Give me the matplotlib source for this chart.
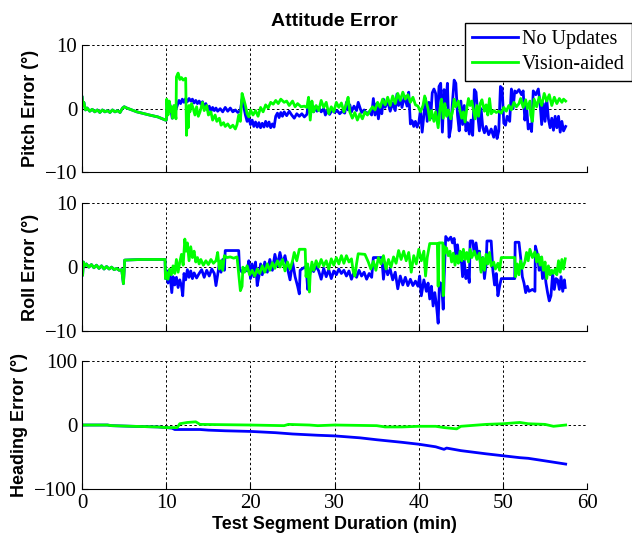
import numpy as np
import matplotlib
matplotlib.use('Agg')
import matplotlib.pyplot as plt

# 0-10 min: both solutions are identical (green drawn on top)
pitch_pre = [(0, 1.8), (0.1, 0.5), (0.2, 1.0), (0.4, -0.2), (0.6, 0.1), (0.9, -0.4), (1.2, -0.1), (1.5, -0.5),
             (1.8, -0.2), (2.1, -0.6), (2.4, -0.2), (2.7, -0.5), (3.0, -0.3), (3.3, -0.6), (3.6, -0.2), (3.9, -0.5),
             (4.2, -0.3), (4.5, -0.6), (4.8, 0.1), (5.0, 0.3), (5.3, 0.1), (6.5, -0.5), (8.0, -1.0), (9.0, -1.3),
             (9.9, -1.8)]

roll_pre = [(0, 0.5), (0.05, -1.3), (0.15, 0.8), (0.3, 0.2), (0.5, 0.5), (0.8, 0.0), (1.1, 0.4), (1.4, -0.1),
            (1.7, 0.3), (2.0, -0.2), (2.3, 0.2), (2.6, -0.3), (2.9, 0.1), (3.2, -0.3), (3.5, 0.0), (3.8, -0.4),
            (4.1, -0.2), (4.4, -0.5), (4.7, -0.4), (4.9, -2.6), (5.0, -0.4), (5.05, 1.1), (7.0, 1.2), (9.85, 1.2)]

pitch_blue = [(10.0, -1.8), (10.1, 1.0), (10.25, -0.5), (10.4, 0.8), (10.55, -0.2), (10.7, -1.5), (10.9, -1.2),
              (11.1, -0.3), (11.3, 0.5), (11.5, 1.3), (11.7, 0.8), (11.9, 1.5), (12.1, 1.0), (12.3, 1.6), (12.5, 1.1),
              (12.7, 1.6), (12.9, 1.2), (13.1, 1.5), (13.3, 0.9), (13.5, 1.3), (13.7, 0.8), (13.9, 1.2), (14.1, 0.7),
              (14.3, 1.1), (14.5, 0.2), (14.7, 0.8), (14.9, -0.2), (15.1, 0.4), (15.3, -0.4), (15.5, 0.2), (15.7, -0.3),
              (15.9, 0.1), (16.1, -0.4), (16.4, 0.0), (16.7, -0.5), (17.0, 0.2), (17.3, -0.4), (17.6, 0.1), (17.9, -0.5),
              (18.2, -0.2), (18.5, -0.6), (18.8, -0.3), (19.0, 1.5), (19.2, 0.3), (19.4, -1.0), (19.6, -2.0), (19.8, -1.4),
              (20.0, -2.5), (20.2, -1.8), (20.4, -2.8), (20.6, -2.1), (20.8, -2.9), (21.0, -2.2), (21.2, -3.0),
              (21.4, -2.3), (21.6, -2.9), (21.8, -2.0), (22.0, -2.8), (22.2, -2.1), (22.4, -3.0), (22.6, -2.4),
              (22.8, -2.9), (23.0, -1.2), (23.2, -0.7), (23.4, -1.4), (23.6, -0.6), (23.8, -1.2), (24.0, -0.5),
              (24.3, -1.1), (24.6, -0.4), (24.9, -1.0), (25.2, -1.5), (25.5, -0.8), (25.8, -1.2), (26.1, -0.8),
              (26.4, -1.3), (26.7, -0.9), (26.9, 1.0), (27.1, -0.8), (27.3, 0.6), (27.5, -0.5), (27.7, 0.3), (27.9, -0.4),
              (28.1, 0.2), (28.4, -0.5), (28.7, 0.0), (28.9, -1.0), (29.1, -0.3), (29.4, -0.9), (29.7, -0.2), (30.0, -0.6),
              (30.3, -0.3), (30.6, -0.8), (30.9, -0.4), (31.2, -0.7), (31.4, 1.0), (31.6, -0.2), (31.8, 0.6), (32.0, -0.5),
              (32.3, 0.4), (32.6, -0.3), (32.8, 1.0), (33.0, 0.2), (33.2, -0.6), (33.5, -0.2), (33.8, -0.8), (34.1, -0.5),
              (34.4, -1.0), (34.6, 1.6), (34.8, -1.0), (35.0, 0.8), (35.2, -1.6), (35.4, 0.5), (35.6, -0.8), (35.8, 1.5),
              (36.0, 0.2), (36.3, 1.2), (36.6, -0.4), (36.9, 0.9), (37.2, -0.3), (37.4, 2.3), (37.6, 0.5), (37.8, 1.8),
              (38.0, 0.2), (38.3, 2.0), (38.6, 0.4), (38.8, 2.6), (39.0, -2.4), (39.2, -1.9), (39.4, -2.8), (39.6, -2.0),
              (39.8, -2.9), (40.0, -2.2), (40.2, -0.2), (40.4, -3.7), (40.6, -1.0), (40.8, 1.6), (41.0, -2.0), (41.2, 1.0),
              (41.4, -1.5), (41.6, 2.5), (41.8, 3.1), (42.0, 2.4), (42.2, -2.0), (42.4, 3.5), (42.6, 4.0), (42.8, -3.7),
              (43.0, 3.0), (43.2, 0.5), (43.4, 4.0), (43.6, -4.5), (43.8, -3.0), (44.0, 1.0), (44.2, 4.5), (44.4, 4.0),
              (44.6, -1.0), (44.8, -3.5), (45.0, 1.2), (45.2, -2.5), (45.4, 0.5), (45.6, -3.5), (45.8, -2.2), (46.0, -4.0),
              (46.2, -1.8), (46.4, -4.2), (46.6, 3.0), (46.8, 2.6), (47.0, -1.0), (47.2, -3.5), (47.4, 0.0), (47.6, -3.0),
              (47.8, -3.8), (48.0, -2.8), (48.3, -4.1), (48.6, -3.2), (48.9, -4.5), (49.1, -2.8), (49.3, -4.7),
              (49.5, -3.5), (49.7, 3.5), (49.9, 3.2), (50.1, -2.3), (50.3, -2.6), (50.5, -1.2), (50.8, -2.0), (51.0, 3.1),
              (51.2, 0.0), (51.4, 2.8), (51.6, 2.5), (51.9, 3.0), (52.2, 2.2), (52.4, 2.8), (52.6, -1.8), (52.8, 0.5),
              (53.0, -3.2), (53.2, -2.5), (53.4, -3.6), (53.6, 2.8), (53.9, 2.2), (54.2, 3.1), (54.4, 1.0), (54.6, -2.5),
              (54.8, 0.8), (55.0, -2.0), (55.2, 1.5), (55.4, -1.6), (55.6, -3.0), (55.8, -1.5), (56.0, -3.4), (56.2, -1.2),
              (56.4, -3.0), (56.6, -1.2), (56.8, -3.7), (57.0, -2.0), (57.2, -3.5), (57.45, -2.8)]

pitch_green = [(10.0, -1.8), (10.05, 1.5), (10.2, -1.0), (10.35, 1.2), (10.5, -0.5), (10.6, 0.3), (10.75, -1.5),
               (10.9, 0.5), (11.0, -0.3), (11.15, -1.6), (11.2, 5.0), (11.4, 5.6), (11.6, 4.6), (11.8, 4.9), (12.0, 4.5),
               (12.3, 4.8), (12.4, -4.2), (12.5, -1.0), (12.6, -3.0), (12.7, 0.5), (12.8, -0.5), (13.0, 0.8), (13.2, 0.0),
               (13.4, -1.0), (13.6, 0.3), (13.8, -1.2), (14.0, -0.5), (14.3, 1.0), (14.5, -0.3), (14.8, 0.5), (15.0, -1.0),
               (15.3, -0.5), (15.5, -1.8), (15.8, -1.0), (16.0, -2.0), (16.3, -1.5), (16.5, -2.6), (16.8, -2.2),
               (17.0, -2.8), (17.3, -2.4), (17.6, -3.0), (17.9, -2.6), (18.2, -3.2), (18.4, -2.5), (18.6, -1.0),
               (18.8, -2.0), (19.0, 2.4), (19.2, 1.5), (19.4, 0.5), (19.6, -0.8), (19.8, -1.3), (20.0, -0.2), (20.3, -1.0),
               (20.6, -0.3), (20.9, -1.2), (21.2, 0.2), (21.5, -0.5), (21.8, 0.6), (22.1, 0.1), (22.4, 1.0), (22.7, 0.7),
               (23.0, 1.3), (23.3, 0.8), (23.6, 1.5), (24.0, 1.0), (24.3, 1.2), (24.6, 0.5), (25.0, 1.2), (25.3, 0.3),
               (25.6, 0.8), (26.0, 0.3), (26.4, 0.4), (26.7, 0.2), (26.9, 1.8), (27.1, -1.8), (27.3, 1.2), (27.5, -0.5),
               (27.8, 0.5), (28.1, -0.3), (28.4, 1.3), (28.7, 0.2), (29.0, 1.0), (29.3, -0.8), (29.6, 0.3), (29.9, -0.5),
               (30.2, 1.0), (30.5, 0.2), (30.8, 0.9), (31.1, -0.5), (31.4, 0.8), (31.6, 1.8), (31.8, -0.5), (32.1, -1.5),
               (32.4, -0.6), (32.7, -1.8), (33.0, -0.8), (33.3, -1.6), (33.6, -0.5), (33.9, -1.0), (34.2, -0.3),
               (34.5, 0.3), (34.8, -0.2), (35.1, 1.0), (35.4, 0.2), (35.7, 1.5), (36.0, 0.6), (36.3, 1.8), (36.6, 0.5),
               (36.9, 2.0), (37.2, 0.8), (37.5, 2.4), (37.8, 1.3), (38.1, 2.6), (38.4, 1.5), (38.7, 2.2), (39.0, 1.0),
               (39.3, 1.8), (39.6, 0.6), (39.9, 0.4), (40.2, -0.5), (40.5, 0.5), (40.7, 2.0), (40.9, 1.0), (41.1, 0.0),
               (41.3, -1.8), (41.5, -0.3), (41.8, -2.0), (42.0, -0.5), (42.3, -3.0), (42.5, -0.2), (42.7, 1.5),
               (42.9, -1.5), (43.1, 0.8), (43.3, -1.2), (43.5, -0.2), (43.8, -1.6), (44.0, -0.5), (44.2, 1.5), (44.4, 0.3),
               (44.7, 1.2), (44.9, -0.3), (45.1, -1.5), (45.3, -0.5), (45.5, -2.1), (45.7, 0.0), (45.9, 1.6), (46.1, 0.5),
               (46.3, 1.2), (46.5, -0.2), (46.7, -1.6), (46.9, 0.5), (47.1, -1.2), (47.3, 0.8), (47.5, 1.4), (47.8, -0.4),
               (48.0, 0.6), (48.2, -1.0), (48.4, 1.6), (48.6, -0.8), (48.9, -0.3), (49.2, -0.6), (49.5, -0.4),
               (49.8, -0.7), (50.1, 0.2), (50.4, -0.4), (50.7, 0.5), (51.0, -0.2), (51.3, 1.0), (51.6, 0.3), (51.9, 0.8),
               (52.1, 1.6), (52.4, 0.2), (52.7, 1.4), (52.9, 0.0), (53.2, 1.2), (53.3, -1.0), (53.5, -2.0), (53.7, 1.5),
               (54.0, 0.3), (54.3, 1.8), (54.6, 0.5), (54.9, 2.4), (55.2, 1.2), (55.5, 2.2), (55.8, 0.5), (56.1, 1.8),
               (56.4, 0.8), (56.7, 1.6), (57.0, 1.0), (57.2, 1.5), (57.45, 1.2)]

roll_blue = [(9.9, -1.8), (10.0, -0.5), (10.2, -2.5), (10.4, -0.8), (10.65, -4.0), (10.8, -1.5), (11.0, -2.8),
             (11.2, -1.6), (11.4, -3.2), (11.6, -2.0), (11.8, -3.0), (11.95, -4.5), (12.1, -1.0), (12.3, -2.0),
             (12.5, -0.4), (12.7, -1.6), (12.9, -0.6), (13.1, -1.8), (13.3, -0.9), (13.6, -1.7), (13.9, -1.0),
             (14.2, -0.4), (14.5, -1.6), (14.8, -0.5), (15.1, -1.4), (15.4, -0.3), (15.7, -1.0), (15.9, -2.9),
             (16.1, -1.2), (16.3, 0.5), (16.5, -0.8), (16.7, 1.2), (16.9, -0.5), (17.0, 2.6), (18.6, 2.6), (18.7, -0.3),
             (19.0, -0.8), (19.3, -0.2), (19.6, -0.6), (19.8, 1.0), (20.0, -1.8), (20.2, 0.5), (20.4, -1.5), (20.6, 0.8),
             (20.8, -2.9), (21.0, -1.5), (21.2, 0.5), (21.4, -1.2), (21.7, 0.8), (22.0, -0.8), (22.3, 1.2), (22.6, -0.5),
             (22.9, 2.0), (23.2, 0.2), (23.5, 2.3), (23.8, 0.5), (24.1, 1.8), (24.4, -0.2), (24.7, -2.0), (25.0, 0.8),
             (25.3, -1.5), (25.6, -3.0), (25.8, -4.2), (25.9, -0.5), (26.2, -0.2), (26.5, 0.0), (26.6, 0.2),
             (26.8, -3.5), (27.0, -1.5), (27.2, 0.0), (27.5, -0.7), (27.8, 0.2), (28.1, -0.6), (28.4, -1.9), (28.7, -0.2),
             (29.0, -1.5), (29.3, -0.4), (29.6, -1.8), (29.9, -0.6), (30.2, -1.2), (30.5, -0.3), (30.8, -1.0),
             (31.1, -0.5), (31.4, -1.4), (31.7, -0.6), (32.0, -1.9), (32.3, -0.8), (32.6, -1.6), (32.9, -0.5),
             (33.2, -1.4), (33.5, -0.8), (33.8, -1.9), (34.1, -1.0), (34.4, -1.6), (34.6, 1.5), (35.6, 1.5),
             (35.8, -1.9), (36.0, 0.5), (36.3, -1.2), (36.6, -0.3), (36.9, -2.0), (37.2, -0.8), (37.5, -3.4),
             (37.8, -1.4), (38.1, -2.8), (38.4, -1.6), (38.7, -2.9), (39.0, -1.9), (39.3, -2.9), (39.6, -2.2),
             (39.9, -3.0), (40.1, -1.4), (40.3, -4.5), (40.6, -2.0), (40.9, -3.8), (41.1, -2.5), (41.3, -5.0),
             (41.5, -3.0), (41.7, -6.1), (41.9, -4.0), (42.1, -6.0), (42.3, -8.8), (42.45, -2.4), (42.7, -2.6),
             (42.9, -6.6), (43.0, -2.0), (43.1, 1.5), (43.2, 4.8), (43.5, 4.2), (43.8, 4.7), (44.0, 3.8), (44.2, 4.5),
             (44.4, 2.0), (44.6, 3.5), (44.8, 0.8), (45.0, 2.3), (45.2, -1.5), (45.4, 1.0), (45.6, -1.8), (45.8, -0.5),
             (46.0, -2.4), (46.1, 4.1), (46.4, 4.1), (46.6, 2.0), (46.8, 3.8), (47.0, 1.8), (47.2, 2.5), (47.4, -0.5),
             (47.6, 1.5), (47.8, -1.8), (48.0, 0.5), (48.1, 4.1), (48.6, 4.1), (48.8, -0.5), (49.0, -2.8), (49.2, -1.0),
             (49.4, -4.5), (49.6, -3.0), (49.8, -1.8), (51.4, -1.8), (51.45, 3.9), (51.9, 3.9), (52.1, 1.5),
             (52.3, -1.5), (52.5, -2.5), (52.7, -4.0), (52.9, -3.0), (53.1, -3.8), (53.5, -3.5), (53.8, -3.8),
             (53.85, 3.3), (54.1, 2.0), (54.3, -0.5), (54.5, 1.5), (54.7, -1.8), (54.9, 0.5), (55.1, -2.4), (55.3, -4.0),
             (55.5, -5.3), (55.7, -4.5), (55.9, -1.0), (56.1, -3.5), (56.3, -1.8), (56.5, -2.0), (56.7, -3.5),
             (56.9, -1.5), (57.1, -3.8), (57.3, -2.0), (57.4, -3.2)]

roll_green = [(9.9, -1.8), (10.0, -0.8), (10.2, -1.9), (10.4, -0.3), (10.6, -1.2), (10.8, 0.2), (11.0, -1.0),
              (11.2, 1.2), (11.4, -0.8), (11.6, 0.8), (11.8, 2.0), (12.0, 0.3), (12.2, 4.4), (12.35, 2.5), (12.5, 3.8),
              (12.7, 1.0), (12.9, 3.2), (13.1, 1.5), (13.3, 2.5), (13.5, 0.8), (13.7, 1.5), (13.9, 0.5), (14.1, 1.2),
              (14.4, 0.3), (14.7, 1.0), (15.0, 0.4), (15.3, 1.2), (15.6, 0.6), (15.9, 1.0), (16.1, 2.3), (16.3, -0.3),
              (16.5, 1.0), (16.7, -0.5), (16.9, 1.8), (17.2, 1.5), (17.6, 1.6), (18.0, 1.4), (18.4, 1.6), (18.6, -1.0),
              (18.8, -3.7), (19.0, -3.0), (19.1, 0.0), (19.3, -0.8), (19.6, 0.2), (19.9, -1.2), (20.2, -0.5),
              (20.5, -1.4), (20.8, -0.3), (21.1, -1.0), (21.4, 0.2), (21.7, -0.8), (22.0, 0.5), (22.3, -0.5), (22.6, 0.7),
              (22.9, -0.2), (23.2, 1.0), (23.5, 0.0), (23.8, 1.2), (24.1, -0.6), (24.4, 0.8), (24.7, -0.3), (25.0, 1.0),
              (25.2, 2.3), (25.5, 1.0), (25.8, 2.8), (26.5, 2.8), (26.6, -1.5), (26.8, 0.5), (27.0, -3.9), (27.1, -1.0),
              (27.3, 0.8), (27.5, -0.5), (27.8, 1.0), (28.1, 0.0), (28.4, 1.2), (28.7, 0.2), (29.0, 1.0), (29.3, -0.3),
              (29.6, 1.3), (29.9, 0.3), (30.2, 1.5), (30.5, 0.5), (30.8, 1.8), (31.1, 0.6), (31.4, 1.8), (31.7, 0.8),
              (32.0, 1.3), (32.2, -0.6), (32.4, -1.4), (32.6, 0.5), (32.8, 2.1), (33.6, 2.0), (34.0, 0.8), (34.3, -0.3),
              (34.6, 0.9), (34.9, -0.5), (35.2, 1.5), (35.5, 0.5), (35.8, 1.8), (36.1, -0.3), (36.4, 1.2), (36.7, 0.0),
              (37.0, 1.6), (37.3, 0.6), (37.6, 2.6), (37.9, 1.2), (38.2, 2.5), (38.5, 1.0), (38.8, 2.3), (39.1, -0.8),
              (39.4, 1.8), (39.7, 0.5), (40.0, 2.8), (40.3, 1.0), (40.6, 2.5), (40.8, -1.4), (41.0, 1.5), (41.2, 3.0),
              (41.3, 3.7), (42.2, 3.7), (42.3, -3.0), (42.4, 3.8), (42.85, 3.8), (42.9, -4.5), (43.0, 3.3), (43.1, 2.2),
              (43.3, 3.0), (43.5, 1.8), (43.7, 2.5), (43.9, 0.8), (44.1, 2.2), (44.3, 0.3), (44.5, 1.8), (44.7, 0.6),
              (44.9, 2.5), (45.1, 1.0), (45.3, 2.8), (45.5, 1.2), (45.7, 2.3), (45.9, 0.8), (46.1, 2.8), (46.3, 1.5),
              (46.6, 2.5), (46.9, 1.2), (47.2, 2.2), (47.4, -0.8), (47.6, 1.5), (47.8, -0.5), (48.0, 2.0), (48.2, 0.5),
              (48.4, 2.3), (48.6, 0.2), (48.9, 0.8), (49.1, -0.3), (49.4, 0.6), (49.6, -0.5), (49.8, 1.5), (51.4, 1.5),
              (51.5, -1.5), (51.7, 0.5), (51.9, -1.2), (52.1, 1.0), (52.3, -0.2), (52.6, 0.8), (52.8, 2.3), (53.0, 1.0),
              (53.2, 2.8), (53.5, 1.5), (53.8, 2.4), (54.0, 0.8), (54.2, 2.0), (54.4, 0.3), (54.6, 1.6), (54.8, -0.5),
              (55.0, 0.8), (55.2, -1.8), (55.4, 0.2), (55.6, -1.2), (55.8, -0.5), (56.0, -1.0), (56.2, -0.3),
              (56.4, -1.2), (56.6, 1.0), (56.8, -0.8), (57.0, 1.2), (57.2, -0.3), (57.4, 1.3)]

heading_blue = [(0, 0), (3, 0), (3.5, -1), (6, -2), (9, -3), (10, -4), (10.7, -5), (11, -7), (14, -7), (15, -8),
                (17, -9), (20, -10), (23, -12), (25, -14), (28, -16), (30, -17), (33, -20), (35, -23), (38, -27),
                (40, -30), (42, -34), (43, -38), (43.3, -36), (45, -40), (48, -45), (50, -48), (52, -51), (53, -52),
                (55, -56), (57.45, -61)]

heading_green = [(0, 0), (3, 0), (3.5, -1), (6, -2), (9, -3), (10, -4), (11.3, -4), (11.6, 2), (12.5, 4), (13.5, 5),
                 (14, 1), (20, 0), (24, -1), (24.5, 1), (27, 0), (28, -1), (30, 0), (35, -1), (36, -3), (38, -3),
                 (40, -2), (42, -2), (43, -4), (44.5, -6), (45, -2), (48, 1), (50, 2), (52, 4), (53, 2), (55, 1),
                 (56, -2), (57.45, 0)]

BLUE = '#0000ff'
GREEN = '#00ff00'
serif = ['Liberation Serif', 'DejaVu Serif']
sans = ['Liberation Sans', 'DejaVu Sans']


def xy(pairs):
    a = np.array(pairs, dtype=float)
    return a[:, 0], a[:, 1]


fig = plt.figure(figsize=(6.32, 5.38), dpi=100)
left, width = 0.130, 0.799
ax1 = fig.add_axes([left, 0.680, width, 0.236])
ax2 = fig.add_axes([left, 0.385, width, 0.237])
ax3 = fig.add_axes([left, 0.091, width, 0.238])

pt, pv = xy(pitch_pre)
rt, rv = xy(roll_pre)
series = [
    (ax1, np.r_[pt, xy(pitch_blue)[0]], np.r_[pv, xy(pitch_blue)[1]],
     np.r_[pt, xy(pitch_green)[0]], np.r_[pv, xy(pitch_green)[1]]),
    (ax2, np.r_[rt, xy(roll_blue)[0]], np.r_[rv, xy(roll_blue)[1]],
     np.r_[rt, xy(roll_green)[0]], np.r_[rv, xy(roll_green)[1]]),
    (ax3, *xy(heading_blue), *xy(heading_green)),
]

lines = []
for ax, bt, bv, gt, gv in series:
    lb, = ax.plot(bt, bv, color=BLUE, lw=2.0, label='No Updates')
    lg, = ax.plot(gt, gv, color=GREEN, lw=2.0, label='Vision-aided')
    lines = [lb, lg]

for ax, lim, ticks, lab, lx in [(ax1, 10, [-10, 0, 10], 'Pitch Error (°)', -0.085),
                                (ax2, 10, [-10, 0, 10], 'Roll Error (°)', -0.085),
                                (ax3, 100, [-100, 0, 100], 'Heading Error (°)', -0.108)]:
    ax.set_xlim(0, 60)
    ax.set_ylim(-lim, lim)
    ax.set_yticks(ticks)
    ax.set_xticks(range(0, 61, 10))
    ax.spines['top'].set_visible(False)
    ax.spines['right'].set_visible(False)
    ax.grid(True, color='k', linestyle=(0, (2.5, 2.5)), lw=0.7)
    ax.set_axisbelow(True)
    ax.tick_params(direction='in', length=4, labelsize=15)
    for t in ax.get_yticklabels() + ax.get_xticklabels():
        t.set_family(serif)
    ax.set_ylabel(lab, fontsize=13, fontweight='bold', family=sans)
    ax.yaxis.set_label_coords(lx, 0.5)

ax1.tick_params(labelbottom=False)
ax2.tick_params(labelbottom=False)
ax3.set_xlabel('Test Segment Duration (min)', fontsize=13, fontweight='bold', family=sans, labelpad=2)
ax1.set_title('Attitude Error', fontsize=14, fontweight='bold', family=sans, pad=14)

fig.legend(lines, ['No Updates', 'Vision-aided'], loc='upper right', bbox_to_anchor=(1.0, 0.958),
           prop={'family': serif, 'size': 14.5}, frameon=True, fancybox=False, edgecolor='k',
           framealpha=1, handlelength=2.3, handletextpad=0.2, borderpad=0.35, labelspacing=0.3,
           borderaxespad=0)

fig.savefig('out.png', dpi=100)
